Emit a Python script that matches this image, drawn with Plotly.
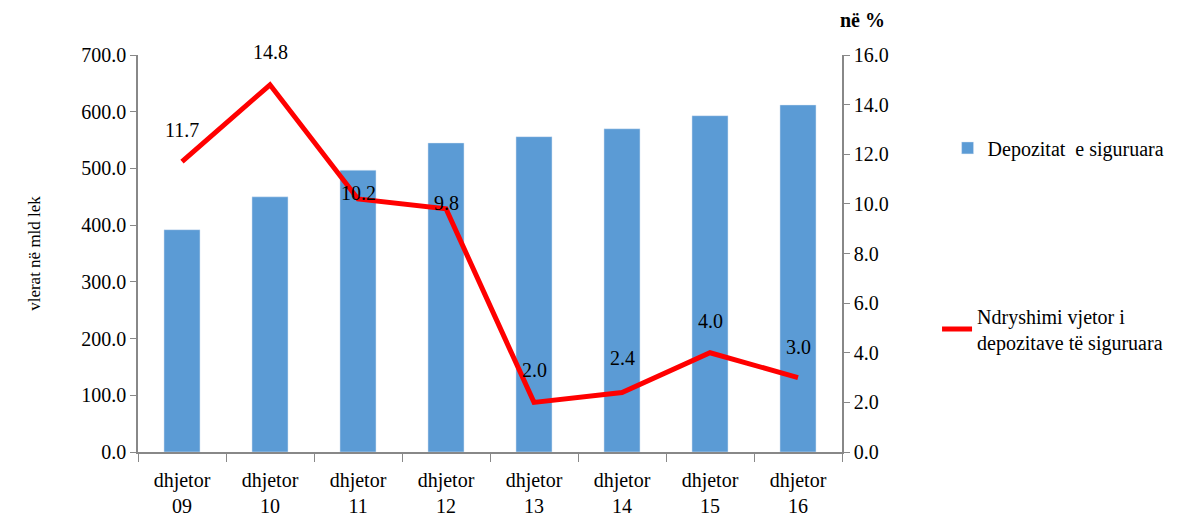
import plotly.graph_objects as go

categories = ["dhjetor<br>09", "dhjetor<br>10", "dhjetor<br>11", "dhjetor<br>12",
              "dhjetor<br>13", "dhjetor<br>14", "dhjetor<br>15", "dhjetor<br>16"]
deposits = [392, 450, 497, 545, 556, 570, 593, 612]
annual_change = [11.7, 14.8, 10.2, 9.8, 2.0, 2.4, 4.0, 3.0]
# vertical offset (px) of each data label above its point
label_shift = [32, 33, 6, 6, 32, 34, 32, 31]

FONT = "Liberation Serif"

fig = go.Figure()

fig.add_trace(go.Bar(
    x=categories, y=deposits, name="Depozitat  e siguruara",
    marker_color="#5b9bd5", width=0.41, legend="legend",
))
fig.add_trace(go.Scatter(
    x=categories, y=annual_change, yaxis="y2", mode="lines",
    name="Ndryshimi vjetor i<br>depozitave të siguruara",
    line=dict(color="#ff0000", width=5), legend="legend2",
))

for c, v, s in zip(categories, annual_change, label_shift):
    fig.add_annotation(x=c, y=v, xref="x", yref="y2", text=f"{v:.1f}",
                       showarrow=False, yshift=s, font=dict(family=FONT, size=20, color="#000"))

fig.add_annotation(x=1.0, y=1.0, xref="paper", yref="paper", xanchor="left",
                   yanchor="bottom", xshift=-4, yshift=22, text="<b>në %</b>",
                   showarrow=False, font=dict(family=FONT, size=20, color="#000"))

fig.update_layout(
    width=1184, height=515,
    margin=dict(l=130, r=350, t=47, b=71),
    paper_bgcolor="white", plot_bgcolor="white",
    font=dict(family=FONT, size=20, color="#000"),
    showlegend=True,
    legend=dict(x=1.15, y=0.766, xanchor="left", yanchor="middle",
                font=dict(family=FONT, size=20), bgcolor="rgba(0,0,0,0)"),
    legend2=dict(x=1.135, y=0.31, xanchor="left", yanchor="middle",
                 font=dict(family=FONT, size=20), bgcolor="rgba(0,0,0,0)"),
    xaxis=dict(showline=True, linecolor="#888", linewidth=1.5, ticks="outside",
               tickson="boundaries", ticklen=8, tickcolor="#888", ticklabelstandoff=9,
               automargin=False, showgrid=False, tickfont=dict(family=FONT, size=20)),
    yaxis=dict(range=[0, 700], dtick=100, tickformat=".1f", showline=True,
               linecolor="#888", linewidth=1.5, ticks="outside", ticklen=6,
               tickcolor="#888", showgrid=False, zeroline=False,
               tickfont=dict(family=FONT, size=20),
               title=dict(text="vlerat në mld lek", font=dict(family=FONT, size=17), standoff=36)),
    yaxis2=dict(range=[0, 16], dtick=2, tickformat=".1f", overlaying="y", side="right",
                showline=True, linecolor="#888", linewidth=1.5, ticks="outside",
                ticklen=6, tickcolor="#888", showgrid=False, zeroline=False,
                tickfont=dict(family=FONT, size=20)),
)

fig.write_html("out.html")
